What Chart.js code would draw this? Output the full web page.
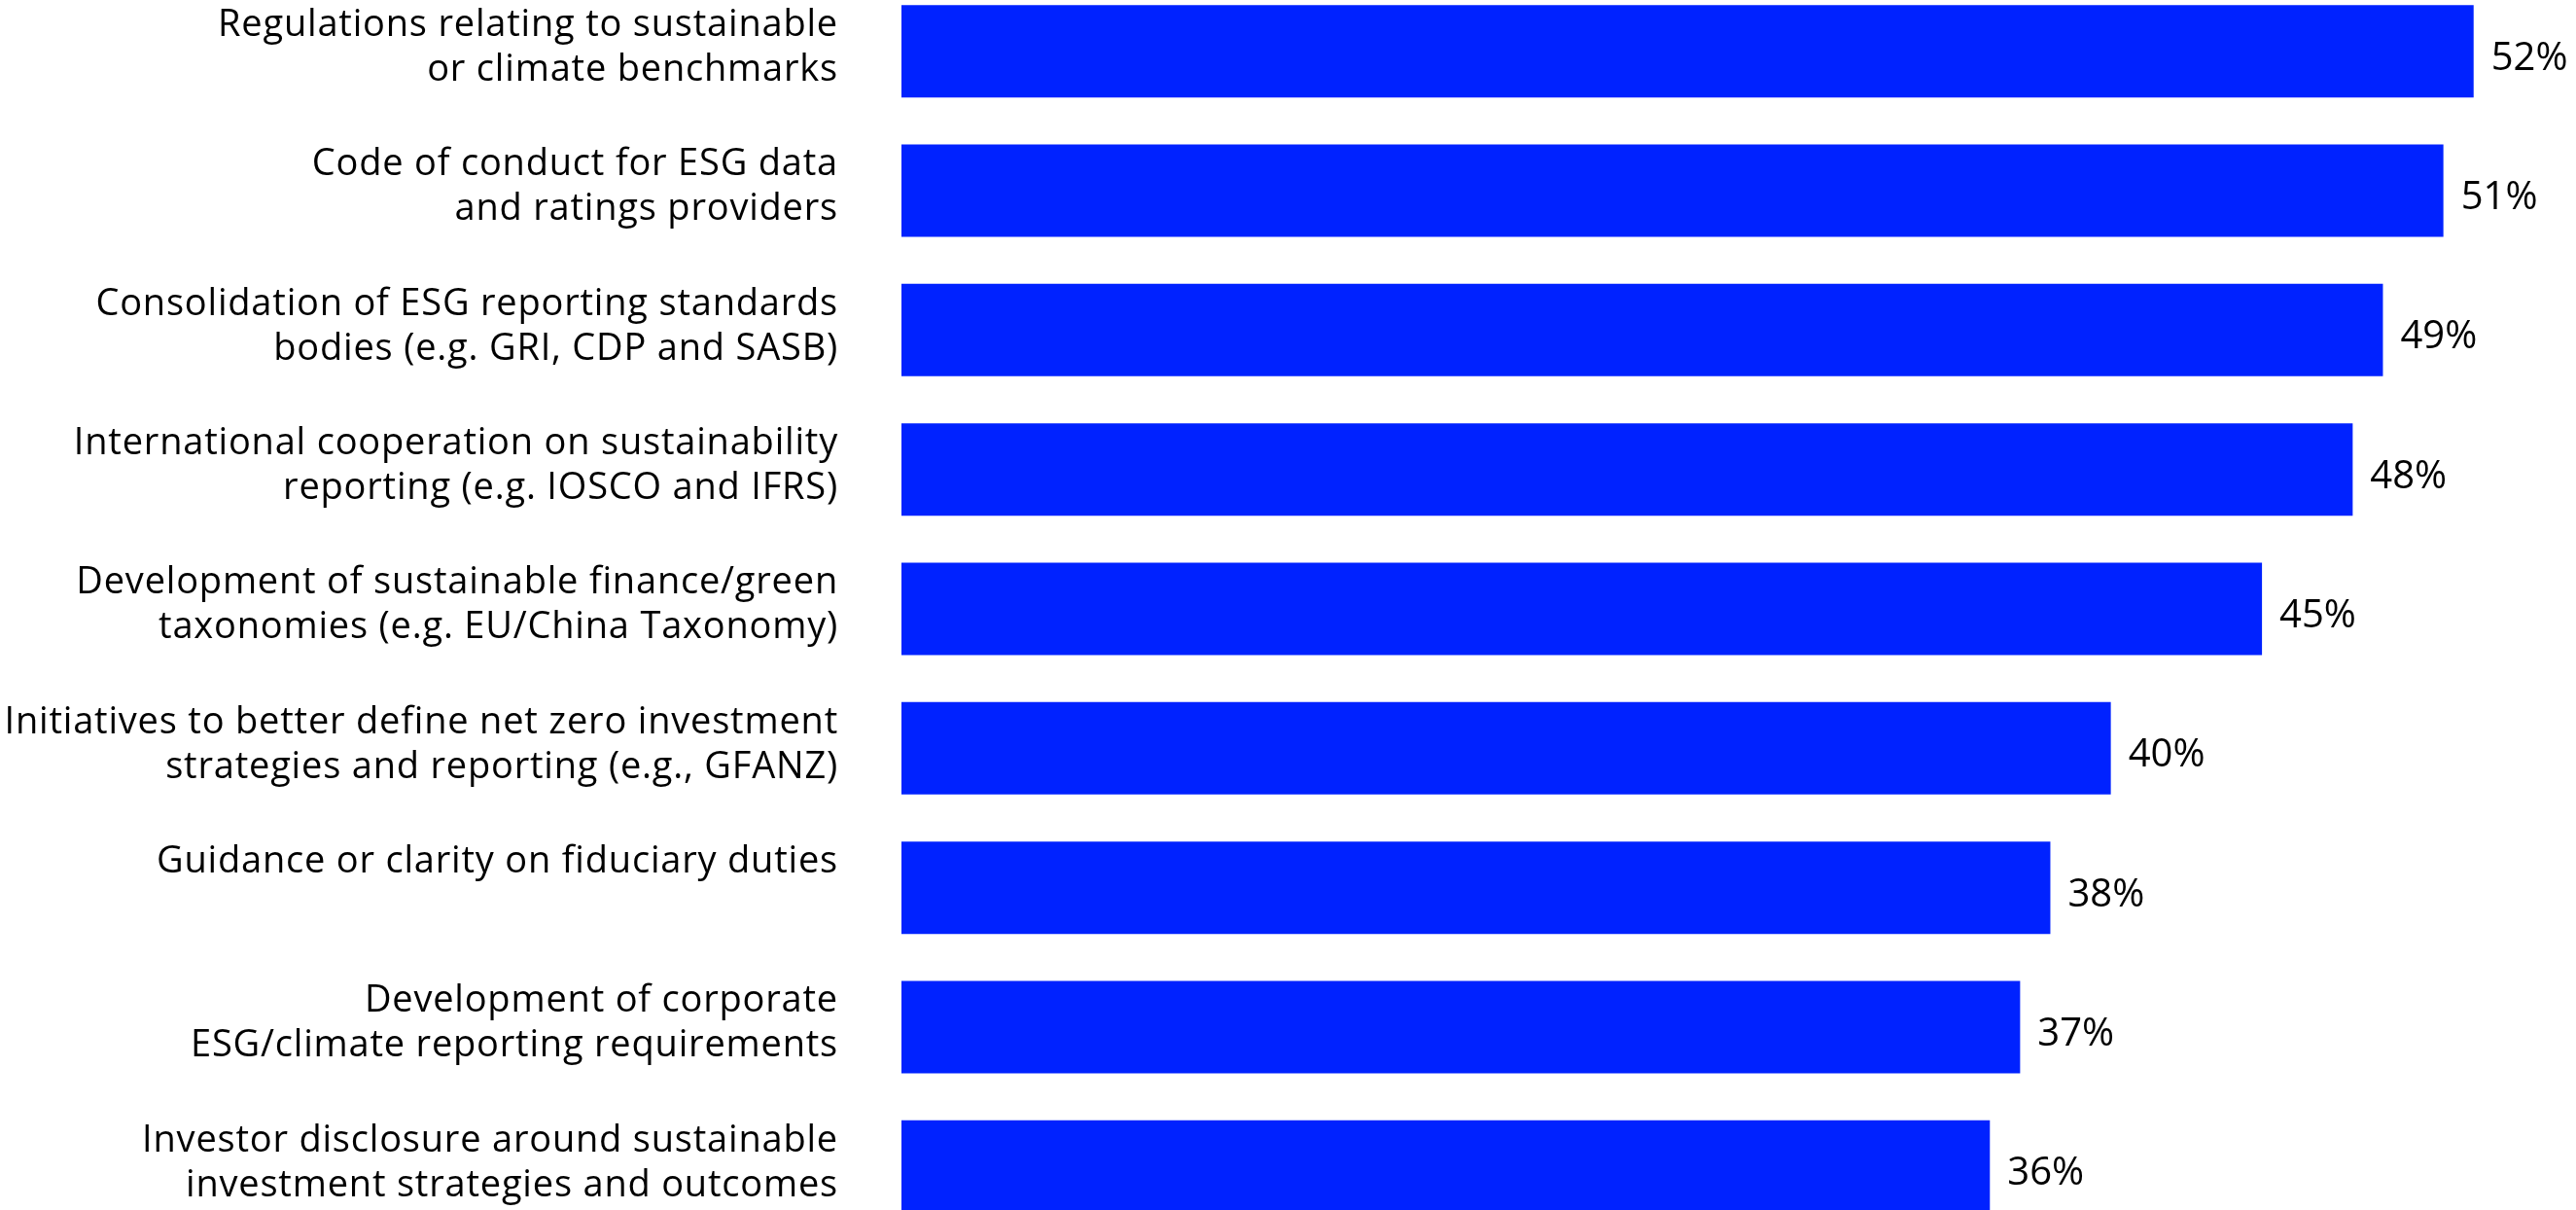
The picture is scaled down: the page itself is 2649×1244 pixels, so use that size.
<!DOCTYPE html>
<html>
<head>
<meta charset="utf-8">
<script src="https://cdn.jsdelivr.net/npm/chart.js@4/dist/chart.umd.min.js"></script>
<style>
    html, body { margin: 0; padding: 0; background: #fff; overflow: hidden; }
    #wrap { position: absolute; left: 0; top: -19px; width: 2649px; height: 1290px; }
</style>
</head>
<body>
<div id="wrap"><canvas id="priorityChart"></canvas></div>
<script>
const categories = [
    ['Regulations relating to sustainable', 'or climate benchmarks'],
    ['Code of conduct for ESG data', 'and ratings providers'],
    ['Consolidation of ESG reporting standards', 'bodies (e.g. GRI, CDP and SASB)'],
    ['International cooperation on sustainability', 'reporting (e.g. IOSCO and IFRS)'],
    ['Development of sustainable finance/green', 'taxonomies (e.g. EU/China Taxonomy)'],
    ['Initiatives to better define net zero investment', 'strategies and reporting (e.g., GFANZ)'],
    ['Guidance or clarity on fiduciary duties'],
    ['Development of corporate', 'ESG/climate reporting requirements'],
    ['Investor disclosure around sustainable', 'investment strategies and outcomes']
];
const shares = [52, 51, 49, 48, 45, 40, 38, 37, 36];
const xMax = 55;

const FONT = '"Open Sans", "Noto Sans", sans-serif';
const BAR_BLUE = '#0022FF';

// category names right-aligned left of the bars, top lined up with each bar;
// value text just past the end of each bar
const barText = {
    id: 'barText',
    afterDatasetsDraw(chart) {
        const ctx = chart.ctx;
        const meta = chart.getDatasetMeta(0);
        ctx.save();
        ctx.fillStyle = '#000';
        ctx.textBaseline = 'alphabetic';
        meta.data.forEach((bar, i) => {
            const top = bar.y - bar.height / 2;
            ctx.font = '38px ' + FONT;
            ctx.letterSpacing = '0.8px';
            ctx.textAlign = 'right';
            categories[i].forEach((line, j) => {
                ctx.fillText(line, chart.chartArea.left - 65, top + 32 + j * 46);
            });
            ctx.font = '40px ' + FONT;
            ctx.letterSpacing = '0px';
            ctx.textAlign = 'left';
            ctx.fillText(shares[i] + '%', bar.x + 18, bar.y + 19);
        });
        ctx.restore();
    }
};

const ctx = document.getElementById('priorityChart').getContext('2d');
new Chart(ctx, {
    type: 'bar',
    data: {
        labels: categories,
        datasets: [{
            data: shares,
            backgroundColor: BAR_BLUE,
            borderWidth: 0,
            barPercentage: 0.663,
            categoryPercentage: 1
        }]
    },
    options: {
        indexAxis: 'y',
        animation: false,
        responsive: true,
        maintainAspectRatio: false,
        layout: {
            padding: { left: 927, right: 12, top: 0, bottom: 0 }
        },
        scales: {
            x: {
                display: false,
                min: 0,
                max: xMax
            },
            y: {
                display: false
            }
        },
        plugins: {
            legend: { display: false },
            tooltip: { enabled: false }
        }
    },
    plugins: [barText]
});
</script>
</body>
</html>
